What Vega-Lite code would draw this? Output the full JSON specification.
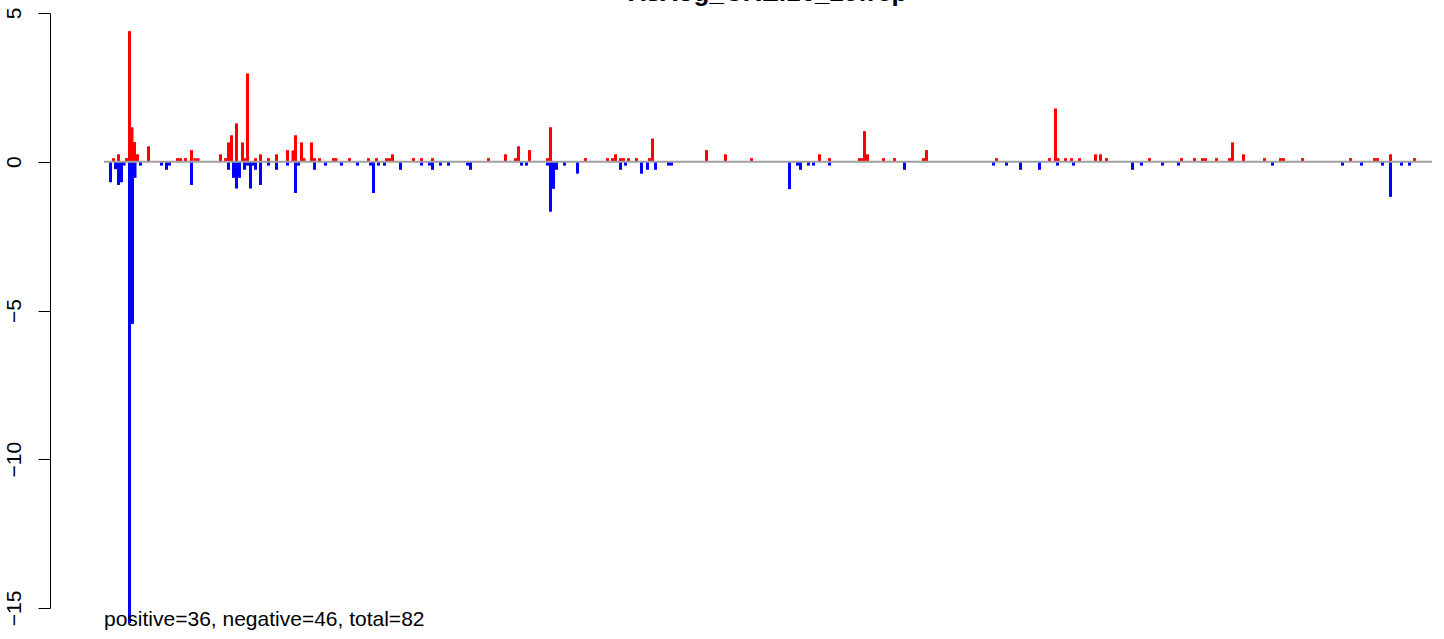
{
  "$schema": "https://vega.github.io/schema/vega-lite/v6.json",
  "autosize": {"type": "none"},
  "width": 1328,
  "height": 595,
  "padding": {"left": 104, "top": 13, "right": 12, "bottom": 31},
  "background": "white",
  "title": {"text": "XsXog_CREi16_25frep", "anchor": "middle", "font": "Liberation Sans", "fontSize": 26, "fontWeight": "bold", "color": "black", "offset": 1},
  "config": {"view": {"stroke": null}},
  "datasets": {
    "bars": [
      {"pos": 9.5, "v": 0.12}, {"pos": 14.5, "v": 0.25}, {"pos": 22.5, "v": 0.12}, {"pos": 25.5, "v": 4.39}, {"pos": 28, "v": 1.16}, {"pos": 30.5, "v": 0.66}, {"pos": 33.5, "v": 0.25}, {"pos": 44.5, "v": 0.52},
      {"pos": 73.5, "v": 0.12}, {"pos": 76.5, "v": 0.12}, {"pos": 81.5, "v": 0.12}, {"pos": 87.5, "v": 0.39}, {"pos": 91, "v": 0.12}, {"pos": 94, "v": 0.12},
      {"pos": 116.5, "v": 0.25}, {"pos": 121.5, "v": 0.12}, {"pos": 124.5, "v": 0.65}, {"pos": 127.5, "v": 0.89}, {"pos": 132.5, "v": 1.29}, {"pos": 138.5, "v": 0.65}, {"pos": 141, "v": 0.12}, {"pos": 143.5, "v": 2.97},
      {"pos": 151.5, "v": 0.12}, {"pos": 156.5, "v": 0.25}, {"pos": 164.5, "v": 0.12}, {"pos": 172.5, "v": 0.25}, {"pos": 183.5, "v": 0.39}, {"pos": 189, "v": 0.38}, {"pos": 191.5, "v": 0.89}, {"pos": 197.5, "v": 0.65}, {"pos": 200, "v": 0.12},
      {"pos": 207.5, "v": 0.65}, {"pos": 210.5, "v": 0.12}, {"pos": 215.5, "v": 0.12}, {"pos": 229.5, "v": 0.12}, {"pos": 232, "v": 0.12}, {"pos": 245.5, "v": 0.12}, {"pos": 264.5, "v": 0.12}, {"pos": 272.5, "v": 0.12},
      {"pos": 282.5, "v": 0.12}, {"pos": 285.5, "v": 0.12}, {"pos": 288.5, "v": 0.25}, {"pos": 309.5, "v": 0.12}, {"pos": 317.5, "v": 0.12}, {"pos": 328.5, "v": 0.12}, {"pos": 384.5, "v": 0.12}, {"pos": 401.5, "v": 0.25},
      {"pos": 411.5, "v": 0.12}, {"pos": 414.5, "v": 0.52}, {"pos": 425.5, "v": 0.39}, {"pos": 443.5, "v": 0.12}, {"pos": 446.5, "v": 1.16}, {"pos": 481.5, "v": 0.12}, {"pos": 503.5, "v": 0.12}, {"pos": 508.5, "v": 0.12},
      {"pos": 511.5, "v": 0.25}, {"pos": 516.5, "v": 0.12}, {"pos": 519.5, "v": 0.12}, {"pos": 524.5, "v": 0.12}, {"pos": 532.5, "v": 0.12}, {"pos": 545.5, "v": 0.12}, {"pos": 548.5, "v": 0.78}, {"pos": 602.5, "v": 0.39},
      {"pos": 621.5, "v": 0.25}, {"pos": 647.5, "v": 0.12}, {"pos": 715.5, "v": 0.25}, {"pos": 725.5, "v": 0.12}, {"pos": 755.5, "v": 0.12}, {"pos": 758, "v": 0.12}, {"pos": 760.5, "v": 1.03}, {"pos": 763.5, "v": 0.25},
      {"pos": 779.5, "v": 0.12}, {"pos": 790.5, "v": 0.12}, {"pos": 819.5, "v": 0.12}, {"pos": 822.5, "v": 0.39}, {"pos": 892.5, "v": 0.12}, {"pos": 945.5, "v": 0.12}, {"pos": 951.5, "v": 1.79}, {"pos": 954, "v": 0.12},
      {"pos": 961.5, "v": 0.12}, {"pos": 967.5, "v": 0.12}, {"pos": 975.5, "v": 0.12}, {"pos": 991.5, "v": 0.25}, {"pos": 996.5, "v": 0.25}, {"pos": 1002.5, "v": 0.12}, {"pos": 1045.5, "v": 0.12}, {"pos": 1077.5, "v": 0.12},
      {"pos": 1090.5, "v": 0.12}, {"pos": 1098.5, "v": 0.12}, {"pos": 1101.5, "v": 0.12}, {"pos": 1112.5, "v": 0.12}, {"pos": 1125.5, "v": 0.12}, {"pos": 1128.5, "v": 0.65}, {"pos": 1139.5, "v": 0.25}, {"pos": 1160.5, "v": 0.12},
      {"pos": 1176.5, "v": 0.12}, {"pos": 1179.5, "v": 0.12}, {"pos": 1198.5, "v": 0.12}, {"pos": 1246.5, "v": 0.12}, {"pos": 1270.5, "v": 0.12}, {"pos": 1273.5, "v": 0.12}, {"pos": 1286.5, "v": 0.25}, {"pos": 1310.5, "v": 0.12},
      {"pos": 6.5, "v": -0.69}, {"pos": 11.5, "v": -0.25}, {"pos": 14.5, "v": -0.78}, {"pos": 17.5, "v": -0.69}, {"pos": 20, "v": -0.13}, {"pos": 25.5, "v": -15.5}, {"pos": 28.5, "v": -5.45}, {"pos": 31, "v": -0.54},
      {"pos": 36.5, "v": -0.13}, {"pos": 57.5, "v": -0.13}, {"pos": 62.5, "v": -0.27}, {"pos": 65.5, "v": -0.13}, {"pos": 87.5, "v": -0.78}, {"pos": 124.5, "v": -0.27}, {"pos": 129.5, "v": -0.54}, {"pos": 132.5, "v": -0.9},
      {"pos": 135.5, "v": -0.54}, {"pos": 140.5, "v": -0.27}, {"pos": 143.5, "v": -0.13}, {"pos": 146.5, "v": -0.9}, {"pos": 149, "v": -0.13}, {"pos": 151.5, "v": -0.27}, {"pos": 156.5, "v": -0.78}, {"pos": 164.5, "v": -0.13},
      {"pos": 172.5, "v": -0.27}, {"pos": 183.5, "v": -0.13}, {"pos": 191.5, "v": -1.05}, {"pos": 194.5, "v": -0.13}, {"pos": 210.5, "v": -0.27}, {"pos": 221.5, "v": -0.13}, {"pos": 237.5, "v": -0.13}, {"pos": 253.5, "v": -0.13},
      {"pos": 266.5, "v": -0.13}, {"pos": 269.5, "v": -1.05}, {"pos": 274.5, "v": -0.13}, {"pos": 280.5, "v": -0.13}, {"pos": 296.5, "v": -0.27}, {"pos": 317.5, "v": -0.13}, {"pos": 325.5, "v": -0.13}, {"pos": 328.5, "v": -0.27},
      {"pos": 336.5, "v": -0.13}, {"pos": 344.5, "v": -0.13}, {"pos": 363.5, "v": -0.13}, {"pos": 366.5, "v": -0.27}, {"pos": 417.5, "v": -0.13}, {"pos": 422.5, "v": -0.13}, {"pos": 443.5, "v": -0.13}, {"pos": 446.5, "v": -1.68},
      {"pos": 449.5, "v": -0.91}, {"pos": 452.5, "v": -0.27}, {"pos": 460.5, "v": -0.13}, {"pos": 473.5, "v": -0.4}, {"pos": 516.5, "v": -0.27}, {"pos": 521.5, "v": -0.13}, {"pos": 537.5, "v": -0.4}, {"pos": 543.5, "v": -0.27},
      {"pos": 551.5, "v": -0.27}, {"pos": 564.5, "v": -0.13}, {"pos": 567.5, "v": -0.13}, {"pos": 685.5, "v": -0.92}, {"pos": 693.5, "v": -0.13}, {"pos": 696.5, "v": -0.27}, {"pos": 704.5, "v": -0.13}, {"pos": 709.5, "v": -0.13},
      {"pos": 725.5, "v": -0.13}, {"pos": 800.5, "v": -0.27}, {"pos": 889.5, "v": -0.13}, {"pos": 902.5, "v": -0.13}, {"pos": 916.5, "v": -0.27}, {"pos": 935.5, "v": -0.27}, {"pos": 953.5, "v": -0.13}, {"pos": 969.5, "v": -0.13},
      {"pos": 1028.5, "v": -0.27}, {"pos": 1037.5, "v": -0.13}, {"pos": 1058.5, "v": -0.13}, {"pos": 1074.5, "v": -0.13}, {"pos": 1168.5, "v": -0.13}, {"pos": 1238.5, "v": -0.13}, {"pos": 1257.5, "v": -0.13}, {"pos": 1278.5, "v": -0.13},
      {"pos": 1286.5, "v": -1.18}, {"pos": 1297.5, "v": -0.13}, {"pos": 1305.5, "v": -0.13}
    ],
    "note": [{"label": "positive=36, negative=46, total=82", "x": 0, "y": -15.6}]
  },
  "layer": [
    {
      "data": {"name": "bars"},
      "mark": {"type": "bar", "width": 3, "clip": false},
      "encoding": {
        "x": {"field": "pos", "type": "quantitative", "scale": {"domain": [0, 1328], "nice": false, "zero": false, "padding": 0}, "axis": null},
        "y": {"field": "v", "type": "quantitative", "scale": {"domain": [-15, 5], "nice": false, "zero": false, "padding": 0},
          "axis": {"title": null, "values": [-15, -10, -5, 0, 5], "offset": 54, "grid": false, "labelAngle": -90, "labelAlign": "center", "labelBaseline": "bottom", "labelPadding": 14, "tickSize": 12, "labelFont": "Liberation Sans", "labelFontSize": 21, "labelColor": "black", "tickColor": "black", "domainColor": "black", "labelFlush": false, "labelOverlap": false}},
        "y2": {"datum": 0},
        "color": {"condition": {"test": "datum.v > 0", "value": "#ff0000"}, "value": "#0000ff"}
      }
    },
    {
      "data": {"values": [{"h": 0}]},
      "mark": {"type": "rule", "color": "#a0a0a0", "strokeWidth": 2},
      "encoding": {"y": {"field": "h", "type": "quantitative"}}
    },
    {
      "data": {"name": "note"},
      "mark": {"type": "text", "align": "left", "baseline": "alphabetic", "font": "Liberation Sans", "fontSize": 21, "color": "black", "clip": false},
      "encoding": {"x": {"field": "x", "type": "quantitative"}, "y": {"field": "y", "type": "quantitative"}, "text": {"field": "label", "type": "nominal"}}
    }
  ]
}
